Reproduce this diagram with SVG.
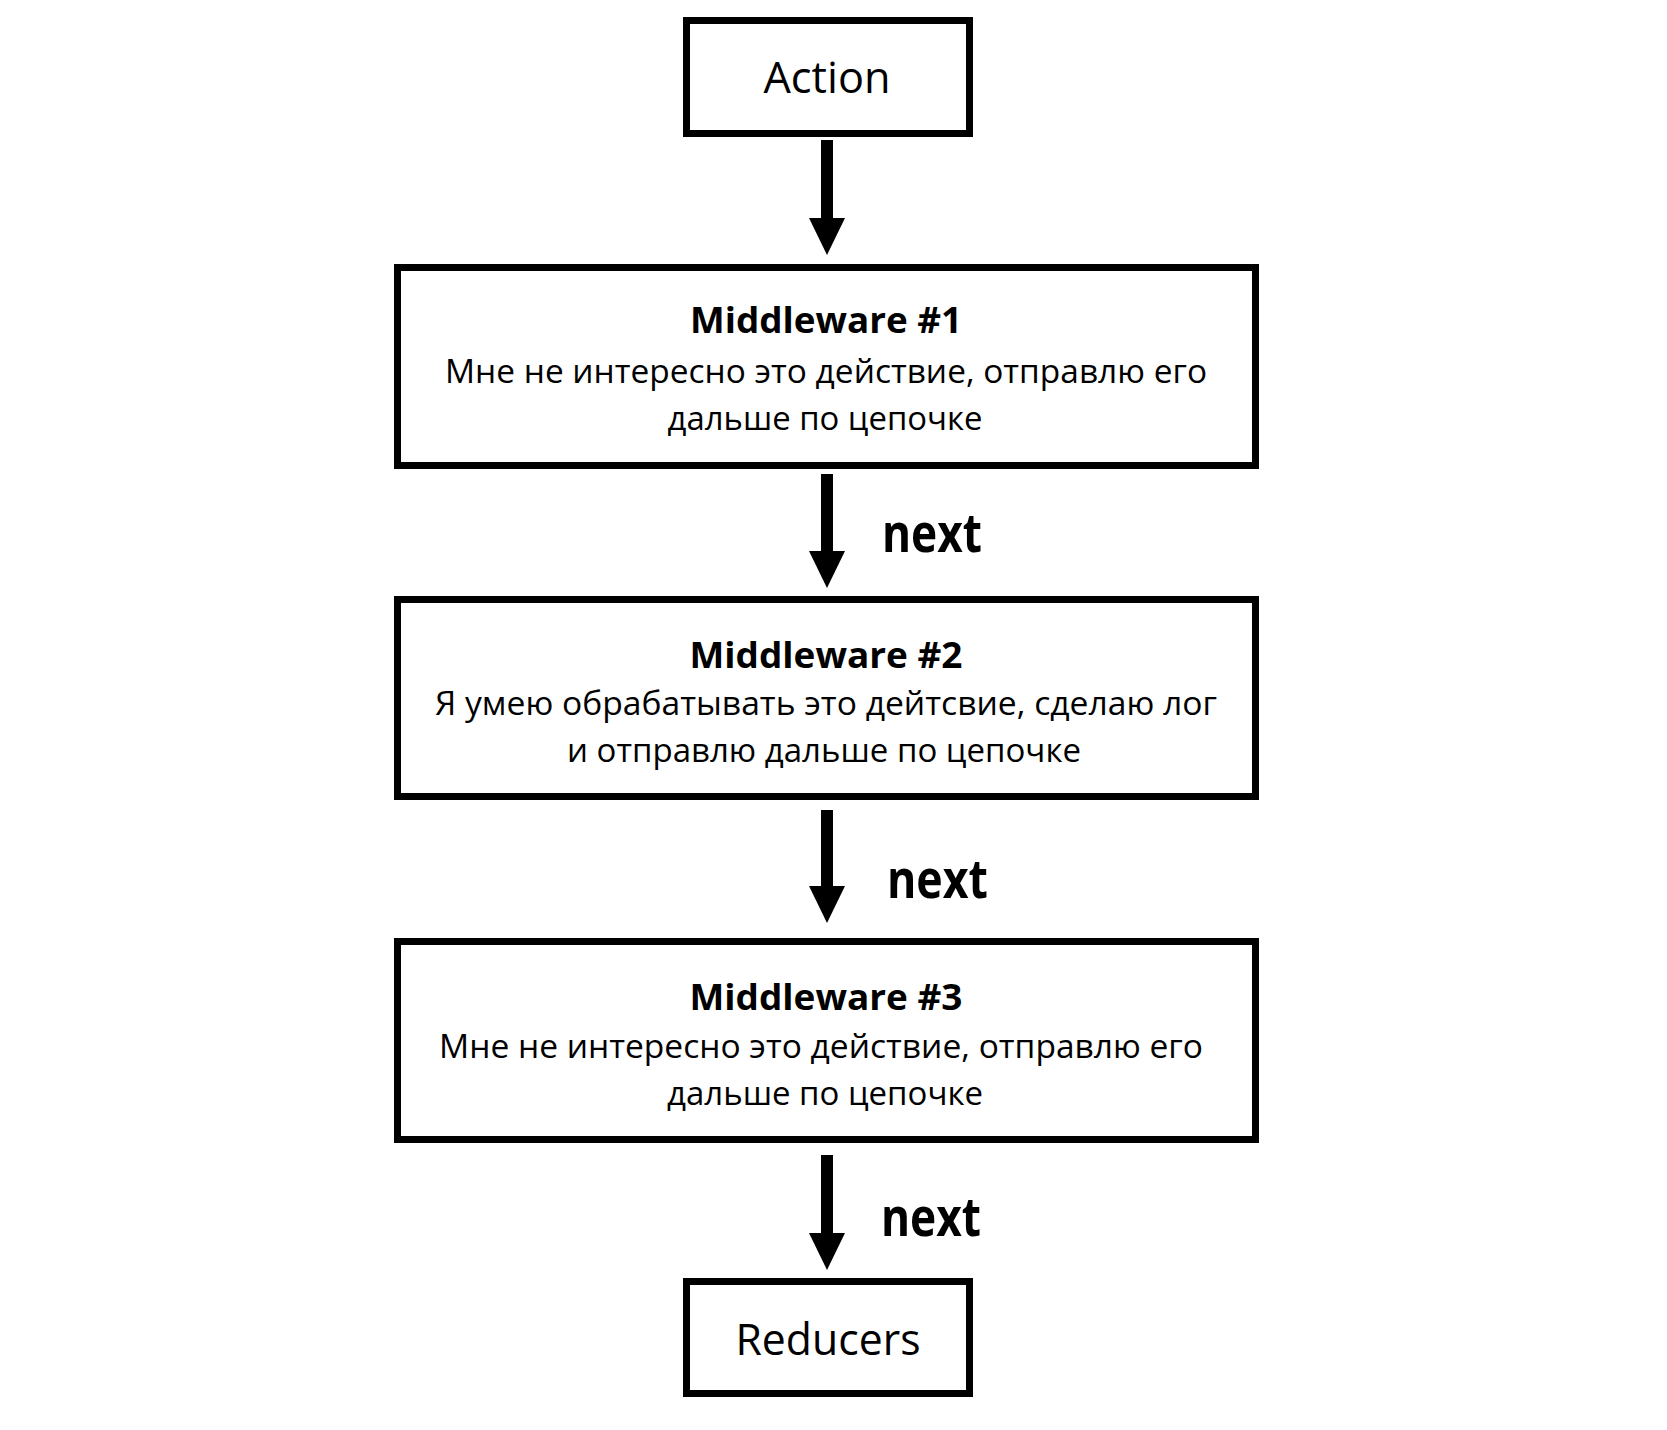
<svg xmlns="http://www.w3.org/2000/svg" width="1667" height="1430" viewBox="0 0 1667 1430">
<style>
  .box { fill: #ffffff; stroke: #000000; stroke-width: 7; }
  .lbl { font-family: "Open Sans", "Noto Sans", "Liberation Sans", sans-serif; fill: #000000; }
  .big { font-size: 44px; text-anchor: middle; }
  .title { font-size: 35px; font-weight: 700; text-anchor: middle; }
  .body { font-size: 32px; text-anchor: middle; }
  .next { font-size: 54px; font-weight: 700; }
  .conn { stroke: #000000; stroke-width: 12; fill: none; marker-end: url(#head); }
</style>
<defs>
  <marker id="head" viewBox="0 0 37 36" refX="0" refY="18" markerWidth="37" markerHeight="36" markerUnits="userSpaceOnUse" orient="auto">
    <path d="M0,0 L37,18 L0,36 z" fill="#000000"/>
  </marker>
</defs>
<rect width="1667" height="1430" fill="#ffffff"/>

<g id="connectors">
  <line class="conn" x1="827" y1="140" x2="827" y2="218"/>
  <line class="conn" x1="827" y1="474" x2="827" y2="551"/>
  <line class="conn" x1="827" y1="810" x2="827" y2="886"/>
  <line class="conn" x1="827" y1="1155" x2="827" y2="1233"/>
  <text class="lbl next" x="882" y="552" textLength="100" lengthAdjust="spacingAndGlyphs">next</text>
  <text class="lbl next" x="887" y="898" textLength="101" lengthAdjust="spacingAndGlyphs">next</text>
  <text class="lbl next" x="881" y="1236" textLength="100" lengthAdjust="spacingAndGlyphs">next</text>
</g>

<g id="action">
  <rect class="box" x="686.5" y="20.5" width="283" height="113"/>
  <text class="lbl big" x="827" y="93" textLength="127" lengthAdjust="spacingAndGlyphs">Action</text>
</g>

<g id="middleware1">
  <rect class="box" x="397.5" y="267.5" width="858" height="198"/>
  <text class="lbl title" x="826" y="333" textLength="272" lengthAdjust="spacingAndGlyphs">Middleware #1</text>
  <text class="lbl body" x="826" y="383" textLength="762" lengthAdjust="spacingAndGlyphs">Мне не интересно это действие, отправлю его</text>
  <text class="lbl body" x="825" y="430" textLength="315" lengthAdjust="spacingAndGlyphs">дальше по цепочке</text>
</g>

<g id="middleware2">
  <rect class="box" x="397.5" y="599.5" width="858" height="197"/>
  <text class="lbl title" x="826" y="668" textLength="273" lengthAdjust="spacingAndGlyphs">Middleware #2</text>
  <text class="lbl body" x="826" y="715" textLength="782" lengthAdjust="spacingAndGlyphs">Я умею обрабатывать это дейтсвие, сделаю лог</text>
  <text class="lbl body" x="824" y="762" textLength="514" lengthAdjust="spacingAndGlyphs">и отправлю дальше по цепочке</text>
</g>

<g id="middleware3">
  <rect class="box" x="397.5" y="941.5" width="858" height="198"/>
  <text class="lbl title" x="826" y="1010" textLength="273" lengthAdjust="spacingAndGlyphs">Middleware #3</text>
  <text class="lbl body" x="821" y="1058" textLength="764" lengthAdjust="spacingAndGlyphs">Мне не интересно это действие, отправлю его</text>
  <text class="lbl body" x="825" y="1105" textLength="316" lengthAdjust="spacingAndGlyphs">дальше по цепочке</text>
</g>

<g id="reducers">
  <rect class="box" x="686.5" y="1281.5" width="283" height="112"/>
  <text class="lbl big" x="828" y="1355" textLength="185" lengthAdjust="spacingAndGlyphs">Reducers</text>
</g>
</svg>
